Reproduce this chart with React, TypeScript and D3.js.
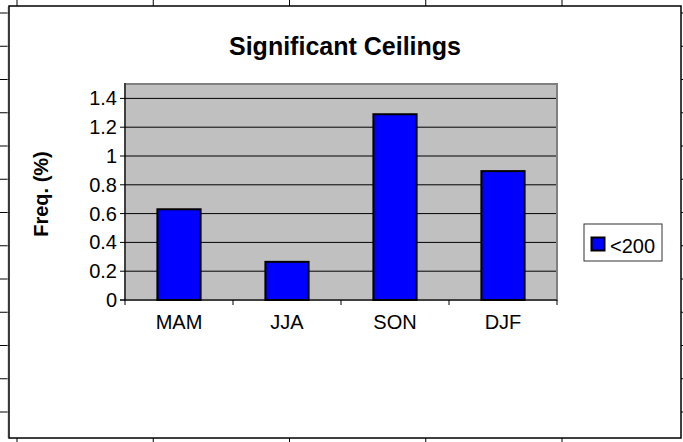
import React from "react";
import * as d3 from "d3";

const categories = ["MAM", "JJA", "SON", "DJF"];
const values = [0.63, 0.265, 1.29, 0.895];
const seriesName = "<200";
const yTicks = [0, 0.2, 0.4, 0.6, 0.8, 1, 1.2, 1.4];
const title = "Significant Ceilings";
const yTitle = "Freq. (%)";

const W = 683;
const H = 442;
const FONT = "'Liberation Sans', Arial, sans-serif";

export default function App() {
  const plot = { left: 125, right: 557, top: 84, bottom: 300 };
  const x = d3
    .scaleBand<string>()
    .domain(categories)
    .range([plot.left, plot.right])
    .paddingInner(0.6)
    .paddingOuter(0.3);
  const y = d3.scaleLinear().domain([0, 1.5]).range([plot.bottom, plot.top]);
  const step = x.step();
  const boundaries = d3.range(categories.length + 1).map((i) => plot.left + i * step);

  const rows = d3.range(13).map((k) => 13 + k * 33.25);
  const cols = d3.range(5).map((k) => 17 + k * 136.25);

  return (
    <svg
      width={W}
      height={H}
      style={{ position: "absolute", left: 0, top: 0, display: "block", background: "#fff" }}
    >
      {/* spreadsheet grid behind the chart */}
      {rows.map((r, i) => (
        <line key={"r" + i} x1={0} x2={W} y1={r} y2={r} stroke="#000" strokeWidth={1} />
      ))}
      {cols.map((c, i) => (
        <line key={"c" + i} x1={c} x2={c} y1={0} y2={H} stroke="#000" strokeWidth={1} />
      ))}
      {/* chart frame */}
      <line x1={8} x2={8} y1={7} y2={438} stroke="#bbb" strokeWidth={1} />
      <rect x={9} y={6} width={672} height={432} fill="#fff" stroke="#000" strokeWidth={1.5} />

      {/* title */}
      <text x={345} y={55} textAnchor="middle" fontFamily={FONT} fontWeight="bold" fontSize={25}>
        {title}
      </text>

      {/* plot area */}
      <rect
        x={plot.left}
        y={plot.top}
        width={plot.right - plot.left}
        height={plot.bottom - plot.top}
        fill="#C0C0C0"
        stroke="#808080"
        strokeWidth={2}
      />
      {yTicks
        .filter((t) => t > 0)
        .map((t) => (
          <line
            key={"g" + t}
            x1={plot.left}
            x2={plot.right - 1}
            y1={y(t)}
            y2={y(t)}
            stroke="#000"
            strokeWidth={1}
          />
        ))}

      {/* bars */}
      {categories.map((c, i) => (
        <rect
          key={c}
          x={x(c)}
          y={y(values[i])}
          width={x.bandwidth()}
          height={y(0) - y(values[i])}
          fill="#0000FF"
          stroke="#000"
          strokeWidth={2}
        />
      ))}

      {/* y axis */}
      <line x1={plot.left} x2={plot.left} y1={plot.top - 1} y2={plot.bottom} stroke="#000" strokeWidth={1} />
      {yTicks.map((t) => (
        <g key={"yt" + t}>
          <line x1={plot.left - 5} x2={plot.left} y1={y(t)} y2={y(t)} stroke="#000" strokeWidth={1} />
          <text
            x={117}
            y={y(t) + 7}
            textAnchor="end"
            fontFamily={FONT}
            fontSize={20}
          >
            {String(t)}
          </text>
        </g>
      ))}

      {/* x axis */}
      <line x1={plot.left - 5} x2={plot.right} y1={plot.bottom} y2={plot.bottom} stroke="#000" strokeWidth={1} />
      {boundaries.map((b, i) => (
        <line key={"xt" + i} x1={b} x2={b} y1={plot.bottom} y2={plot.bottom + 5} stroke="#000" strokeWidth={1} />
      ))}
      {categories.map((c) => (
        <text
          key={"xl" + c}
          x={(x(c) as number) + x.bandwidth() / 2}
          y={329}
          textAnchor="middle"
          fontFamily={FONT}
          fontSize={20}
        >
          {c}
        </text>
      ))}

      {/* y title */}
      <text
        transform={`translate(48, ${(plot.top + plot.bottom) / 2 + 2}) rotate(-90)`}
        textAnchor="middle"
        fontFamily={FONT}
        fontWeight="bold"
        fontSize={20}
      >
        {yTitle}
      </text>

      {/* legend */}
      <rect x={584} y={224} width={78} height={37} fill="#fff" stroke="#333" strokeWidth={1} />
      <rect x={591.5} y={237.5} width={13} height={13} fill="#0000FF" stroke="#000" strokeWidth={2} />
      <text x={610} y={252.5} fontFamily={FONT} fontSize={20}>
        {seriesName}
      </text>
    </svg>
  );
}
